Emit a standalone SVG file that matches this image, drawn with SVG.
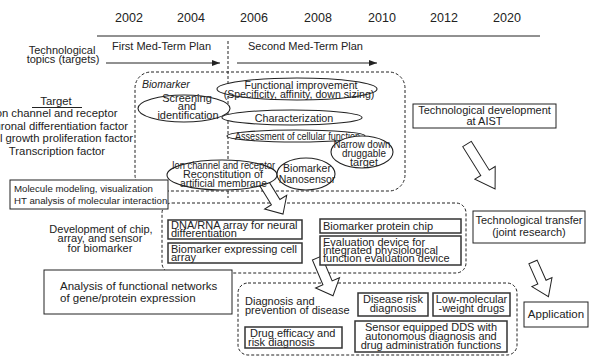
<svg xmlns="http://www.w3.org/2000/svg" width="589" height="356" viewBox="0 0 589 356">
  <style>
    .t { font-family: "Liberation Sans", Arial, sans-serif; font-size: 11px; fill: #222; }
    .m { text-anchor: middle; }
    .dash { fill: none; stroke: #222; stroke-width: 1; stroke-dasharray: 3 2; }
    .line { fill: none; stroke: #222; stroke-width: 1; }
    .box { fill: #fff; stroke: #222; stroke-width: 1; }
    .box2 { fill: #fff; stroke: #333; stroke-width: 1.5; }
    .ell { fill: #fff; stroke: #222; stroke-width: 1.1; }
    .harrow { fill: #fff; stroke: #222; stroke-width: 1; }
  </style>
  <defs>
    <marker id="tip" viewBox="0 0 8 6" refX="8" refY="3" markerWidth="8" markerHeight="6" orient="auto" markerUnits="userSpaceOnUse">
      <path d="M0,0 L8,3 L0,6 z" fill="#222"/>
    </marker>
  </defs>
  <rect width="589" height="356" fill="#fff"/>

  <!-- timeline -->
  <g id="timeline">
    <text class="t m" x="129" y="22" style="font-size:12.5px">2002</text>
    <text class="t m" x="191" y="22" style="font-size:12.5px">2004</text>
    <text class="t m" x="254" y="22" style="font-size:12.5px">2006</text>
    <text class="t m" x="318" y="22" style="font-size:12.5px">2008</text>
    <text class="t m" x="382" y="22" style="font-size:12.5px">2010</text>
    <text class="t m" x="444" y="22" style="font-size:12.5px">2012</text>
    <text class="t m" x="507" y="22" style="font-size:12.5px">2020</text>
    <line class="line" x1="97" y1="36" x2="540" y2="36"/>
    <text class="t m" x="62" y="54">Technological</text>
    <text class="t m" x="63" y="63">topics (targets)</text>
    <text class="t" x="112" y="50">First Med-Term Plan</text>
    <text class="t" x="248" y="50">Second Med-Term Plan</text>
  </g>

  <!-- connectors: plan arrows, dashed frames, hollow arrows -->
  <g id="connectors">
    <line class="line" x1="106" y1="63" x2="220" y2="63" marker-end="url(#tip)"/>
    <line class="line" x1="237" y1="63" x2="377" y2="63" marker-end="url(#tip)"/>
    <line class="dash" x1="228" y1="41" x2="228" y2="198"/>
    <rect class="dash" x="135" y="72" width="270" height="119" rx="16"/>
    <rect class="dash" x="162" y="203" width="304" height="70" rx="10"/>
    <rect class="dash" x="238" y="283" width="279" height="72" rx="10"/>
    <polygon class="harrow" transform="translate(262,180) rotate(58.3)" points="0,-5 26,-5 26,-13 40,0 26,13 26,5 0,5"/>
    <polygon class="harrow" transform="translate(317,258) rotate(67)" points="0,-5 27,-5 27,-13 41,0 27,13 27,5 0,5"/>
    <polygon class="harrow" transform="translate(467,144) rotate(58)" points="0,-5 34,-5 34,-12 53,0 34,12 34,5 0,5"/>
    <polygon class="harrow" transform="translate(533,262) rotate(66)" points="0,-4.5 22,-4.5 22,-11 38,0 22,11 22,4.5 0,4.5"/>
  </g>

  <!-- targets -->
  <g id="targets">
    <text class="t m" x="56" y="105" style="font-size:11.3px">Target</text>
    <line class="line" x1="32" y1="107.5" x2="82" y2="107.5"/>
    <text class="t m" x="55" y="117" style="font-size:11.3px">Ion channel and receptor</text>
    <text class="t m" x="54" y="129.5" style="font-size:11.3px">Neuronal differentiation factor</text>
    <text class="t m" x="58" y="142" style="font-size:11.3px">Cell growth proliferation factor</text>
    <text class="t m" x="57" y="154.5" style="font-size:11.3px">Transcription factor</text>
  </g>

  <text class="t" x="142" y="88" style="font-style:italic;font-size:10.5px">Biomarker</text>

  <g id="functional">
    <ellipse class="ell" cx="297" cy="89" rx="80" ry="11"/>
    <text class="t m" x="301" y="89" style="font-size:10.6px">Functional improvement</text>
    <text class="t m" x="299" y="98" style="font-size:10.6px">(Specificity, affinity, down sizing)</text>
  </g>
  <g id="characterization">
    <ellipse class="ell" cx="292" cy="117.5" rx="70" ry="7.5"/>
    <text class="t m" x="294" y="121.5" style="font-size:10.8px">Characterization</text>
  </g>
  <g id="screening">
    <ellipse class="ell" cx="184" cy="108.5" rx="46" ry="13.5"/>
    <text class="t m" x="187" y="101.5" style="font-size:11px">Screening</text>
    <text class="t m" x="187" y="110" style="font-size:11px">and</text>
    <text class="t m" x="188" y="118.5" style="font-size:11px">identification</text>
  </g>
  <g id="assessment">
    <ellipse class="ell" cx="296" cy="136" rx="69" ry="6"/>
    <text class="t" x="235" y="140" style="font-size:10.5px" textLength="125" lengthAdjust="spacingAndGlyphs">Assessment of cellular function</text>
  </g>
  <g id="narrow">
    <ellipse class="ell" cx="362" cy="152" rx="31" ry="16"/>
    <text class="t m" x="362" y="148" style="font-size:10.3px" textLength="57" lengthAdjust="spacingAndGlyphs">Narrow down</text>
    <text class="t m" x="364" y="157" style="font-size:10.3px" textLength="44" lengthAdjust="spacingAndGlyphs">druggable</text>
    <text class="t m" x="364" y="166" style="font-size:10.3px" textLength="28" lengthAdjust="spacingAndGlyphs">target</text>
  </g>
  <g id="membrane">
    <ellipse class="ell" cx="222" cy="175" rx="55" ry="15"/>
    <text class="t m" x="223.5" y="168.5" style="font-size:10.5px" textLength="103" lengthAdjust="spacingAndGlyphs">Ion channel and receptor</text>
    <text class="t m" x="223" y="178" style="font-size:10.5px" textLength="80" lengthAdjust="spacingAndGlyphs">Reconstitution of</text>
    <text class="t m" x="223.5" y="187" style="font-size:10.5px" textLength="87" lengthAdjust="spacingAndGlyphs">artificial membrane</text>
  </g>
  <g id="nanosensor">
    <ellipse class="ell" cx="306" cy="174" rx="29" ry="16"/>
    <text class="t m" x="307" y="172" style="font-size:10.5px">Biomarker</text>
    <text class="t m" x="307" y="183" style="font-size:10.5px">Nanosensor</text>
  </g>

  <g id="molecule">
    <rect class="box" x="10" y="180" width="158" height="29"/>
    <text class="t" x="14" y="191.5" style="font-size:9.7px">Molecule modeling, visualization</text>
    <text class="t" x="14" y="204" style="font-size:9.7px">HT analysis of molecular interaction</text>
  </g>

  <g id="development">
    <text class="t m" x="101" y="233">Development of chip,</text>
    <text class="t m" x="100" y="242">array, and sensor</text>
    <text class="t m" x="100" y="251.5">for biomarker</text>
  </g>

  <g id="dna-array">
    <rect class="box2" x="168" y="220" width="134" height="19"/>
    <text class="t" x="171" y="229">DNA/RNA array for neural</text>
    <text class="t" x="171" y="237">differentiation</text>
  </g>
  <g id="cell-array">
    <rect class="box2" x="168" y="243" width="134" height="20"/>
    <text class="t" x="171" y="252.5">Biomarker expressing cell</text>
    <text class="t" x="171" y="260.5">array</text>
  </g>
  <g id="protein-chip">
    <rect class="box2" x="320" y="219" width="141" height="14"/>
    <text class="t" x="323" y="229.5">Biomarker protein chip</text>
  </g>
  <g id="evaluation">
    <rect class="box2" x="320" y="236" width="141" height="29"/>
    <text class="t" x="323" y="246">Evaluation device for</text>
    <text class="t" x="323" y="254">integrated physiological</text>
    <text class="t" x="323" y="262">function evaluation device</text>
  </g>

  <g id="analysis">
    <rect class="box" x="44" y="270" width="188" height="44"/>
    <text class="t" x="60" y="290" style="font-size:11.5px">Analysis of functional networks</text>
    <text class="t" x="60" y="301.5" style="font-size:11.5px">of gene/protein expression</text>
  </g>

  <g id="disease">
    <text class="t" x="245" y="305">Diagnosis and</text>
    <text class="t" x="245" y="313.5">prevention of disease</text>
  </g>
  <g id="risk">
    <rect class="box2" x="358" y="293" width="70" height="23"/>
    <text class="t m" x="393" y="303">Disease risk</text>
    <text class="t m" x="393" y="312">diagnosis</text>
  </g>
  <g id="low-molecular">
    <rect class="box2" x="433" y="293" width="77" height="23"/>
    <text class="t m" x="471.5" y="303">Low-molecular</text>
    <text class="t m" x="471.5" y="312">-weight drugs</text>
  </g>
  <g id="efficacy">
    <rect class="box2" x="245" y="327" width="97" height="21"/>
    <text class="t" x="250" y="337">Drug efficacy and</text>
    <text class="t" x="248" y="345.5">risk diagnosis</text>
  </g>
  <g id="dds">
    <rect class="box2" x="355" y="321" width="152" height="31"/>
    <text class="t m" x="431" y="331">Sensor equipped DDS with</text>
    <text class="t m" x="431" y="340">autonomous diagnosis and</text>
    <text class="t m" x="431" y="349">drug administration functions</text>
  </g>

  <g id="aist">
    <rect class="box" x="413" y="104" width="143" height="24"/>
    <text class="t m" x="484.5" y="114">Technological development</text>
    <text class="t m" x="484.5" y="124.5">at AIST</text>
  </g>
  <g id="transfer">
    <rect class="box" x="473" y="211" width="112" height="32"/>
    <text class="t m" x="529" y="224">Technological transfer</text>
    <text class="t m" x="529" y="236">(joint research)</text>
  </g>
  <g id="application">
    <rect class="box" x="524" y="302" width="64" height="25"/>
    <text class="t m" x="556" y="318" style="font-size:11.5px">Application</text>
  </g>
</svg>
